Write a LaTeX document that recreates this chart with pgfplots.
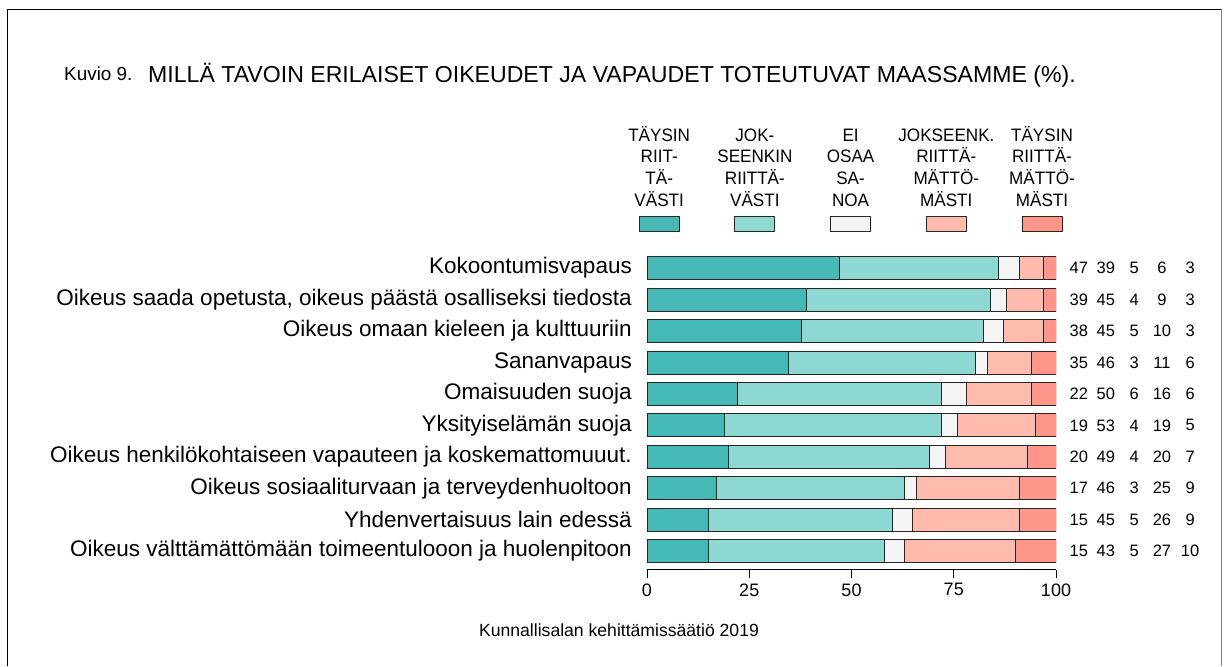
\documentclass[border=0pt]{standalone}
\usepackage{fontspec}
\setmainfont{Liberation Sans}
\newfontfamily\narrowfont[FakeStretch=0.95]{Liberation Sans}
\usepackage{pgfplots}
\pgfplotsset{compat=1.18}
\usepackage{pgfplotstable}

\definecolor{c1}{RGB}{69,185,182}
\definecolor{c2}{RGB}{142,216,211}
\definecolor{c3}{RGB}{244,244,244}
\definecolor{c4}{RGB}{255,186,174}
\definecolor{c5}{RGB}{255,150,137}

% bar lengths
\pgfplotstableread{
y a b c d e
9 47 39 5 6 3
8 39 45 4 9 3
7 37.7 44.5 5.0 9.8 3.0
6 34.7 45.6 2.9 10.9 5.9
5 22 50 6 16 6
4 19 53 4 19 5
3 20 49 4 20 7
2 17 46 3 25 9
1 15 45 5 26 9
0 15 43 5 27 10
}\bars

% printed values
\pgfplotstableread{
y a b c d e
9 47 39 5 6 3
8 39 45 4 9 3
7 38 45 5 10 3
6 35 46 3 11 6
5 22 50 6 16 6
4 19 53 4 19 5
3 20 49 4 20 7
2 17 46 3 25 9
1 15 45 5 26 9
0 15 43 5 27 10
}\labels

\pgfplotsset{
  legbox/.style={legend image code/.code={\draw[##1, overlay] (27.85pt,-75.3pt) rectangle (67.85pt,-90.3pt);}},
}

\begin{document}
\begin{tikzpicture}[x=1pt,y=1pt]
\useasboundingbox (0,0) rectangle (1225,666);
\draw[black, line width=1.3] (7.8,0) -- (7.8,656.7) -- (1221.5,656.7);
\draw[gray, line width=1.3] (1221.5,656.7) -- (1221.5,0);

\node[anchor=base west, inner sep=0, font=\fontsize{18.9}{21}\selectfont] at (64,666-81) {Kuvio 9.};
\node[anchor=base west, inner sep=0, font=\fontsize{23.1}{26}\selectfont] at (148,666-83) {MILLÄ TAVOIN ERILAISET OIKEUDET JA VAPAUDET TOTEUTUVAT MAASSAMME (\%).};
\node[anchor=base, inner sep=0, font=\fontsize{17.6}{20}\selectfont] at (619,666-637) {Kunnallisalan kehittämissäätiö 2019};

\begin{axis}[
  at={(647pt,96pt)}, anchor=south west,
  scale only axis, width=409pt, height=320.7pt,
  xbar stacked, bar width=23pt,
  xmin=0, xmax=100, ymin=-0.6, ymax=9.6,
  enlargelimits=false,
  axis x line*=bottom, axis y line*=left,
  y axis line style={draw=none},
  major y tick style={draw=none},
  xtick={0,25,50,75,100},
  tick align=outside,
  major tick length=8pt,
  x axis line style={line width=1pt},
  major x tick style={line width=1pt, black},
  ytick={0,...,9},
  yticklabels={
    Oikeus välttämättömään toimeentulooon ja huolenpitoon,
    Yhdenvertaisuus lain edessä,
    Oikeus sosiaaliturvaan ja terveydenhuoltoon,
    Oikeus henkilökohtaiseen vapauteen ja koskemattomuuut.,
    Yksityiselämän suoja,
    Omaisuuden suoja,
    Sananvapaus,
    Oikeus omaan kieleen ja kulttuuriin,
    {Oikeus saada opetusta, oikeus päästä osalliseksi tiedosta},
    Kokoontumisvapaus},
  yticklabel style={font=\fontsize{22.5}{26}\selectfont, anchor=east, inner sep=0pt, xshift=-7pt},
  xticklabel style={font=\fontsize{18}{20}\selectfont, yshift=-2pt},
  /pgf/number format/assume math mode=true,
  legend columns=5,
  legend style={draw=none, fill=none, inner sep=0pt, at={(-0.0877,1.3844)}, anchor=north west,
    /tikz/column sep=0pt,
    nodes={anchor=base west, text width=95.7pt, align=center, inner sep=0pt,
      font=\narrowfont\fontsize{18}{21.67}\selectfont}},
  every axis plot/.append style={draw=black!85, line width=0.9pt},
]
\addplot[fill=c1, legbox] table[x=a, y=y]{\bars};
\addplot[fill=c2, legbox] table[x=b, y=y]{\bars};
\addplot[fill=c3, legbox] table[x=c, y=y]{\bars};
\addplot[fill=c4, legbox] table[x=d, y=y]{\bars};
\addplot[fill=c5, legbox] table[x=e, y=y]{\bars};
\legend{TÄYSIN\\RIIT-\\TÄ-\\VÄSTI, JOK-\\SEENKIN\\RIITTÄ-\\VÄSTI, EI\\OSAA\\SA-\\NOA, JOKSEENK.\\RIITTÄ-\\MÄTTÖ-\\MÄSTI, TÄYSIN\\RIITTÄ-\\MÄTTÖ-\\MÄSTI}
\end{axis}

\begin{axis}[
  at={(647pt,96pt)}, anchor=south west,
  scale only axis, width=409pt, height=320.7pt,
  xmin=0, xmax=100, ymin=-0.6, ymax=9.6,
  hide axis, clip=false,
  /pgf/number format/assume math mode=true,
  nodes near coords style={anchor=center, inner sep=0pt, font=\fontsize{16.5}{18}\selectfont},
]
\addplot[draw=none, mark=none, nodes near coords, point meta=explicit] table[x expr=105.6, y=y, meta=a]{\labels};
\addplot[draw=none, mark=none, nodes near coords, point meta=explicit] table[x expr=112.2, y=y, meta=b]{\labels};
\addplot[draw=none, mark=none, nodes near coords, point meta=explicit] table[x expr=119.1, y=y, meta=c]{\labels};
\addplot[draw=none, mark=none, nodes near coords, point meta=explicit] table[x expr=125.9, y=y, meta=d]{\labels};
\addplot[draw=none, mark=none, nodes near coords, point meta=explicit] table[x expr=132.8, y=y, meta=e]{\labels};
\end{axis}
\end{tikzpicture}
\end{document}
